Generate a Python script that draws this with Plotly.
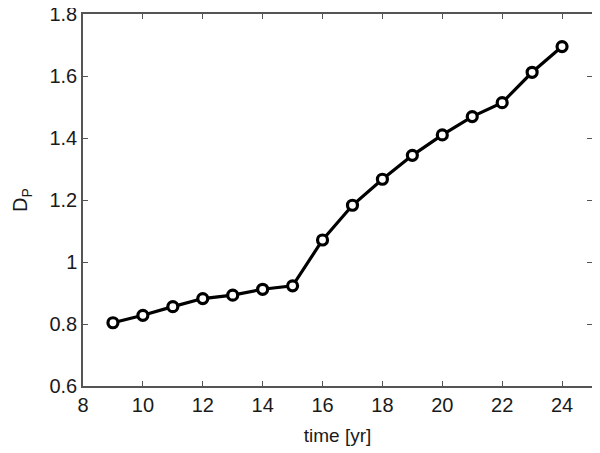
import plotly.graph_objects as go

time_yr = [9, 10, 11, 12, 13, 14, 15, 16, 17, 18, 19, 20, 21, 22, 23, 24]
dp_values = [0.804, 0.828, 0.856, 0.882, 0.893, 0.912, 0.923, 1.071,
             1.183, 1.267, 1.344, 1.410, 1.469, 1.514, 1.612, 1.695]

x_ticks = [8, 10, 12, 14, 16, 18, 20, 22, 24]
y_ticks = [0.6, 0.8, 1.0, 1.2, 1.4, 1.6, 1.8]
y_tick_labels = ["0.6", "0.8", "1", "1.2", "1.4", "1.6", "1.8"]

font_family = "Liberation Sans, Arial, sans-serif"

fig = go.Figure()
fig.add_trace(
    go.Scatter(
        x=time_yr,
        y=dp_values,
        mode="lines+markers",
        line={"color": "black", "width": 3.2},
        marker={"symbol": "circle", "size": 10, "color": "white",
                "line": {"color": "black", "width": 3.2}},
        showlegend=False,
    )
)

axis_style = dict(
    showline=True,
    linecolor="#555555",
    linewidth=1.5,
    mirror="ticks",
    ticks="inside",
    ticklen=5,
    tickcolor="#555555",
    showgrid=False,
    zeroline=False,
    automargin=False,
    ticklabeloverflow="allow",
    tickfont={"family": font_family, "size": 20, "color": "#1a1a1a"},
)

fig.update_xaxes(
    range=[8, 25],
    tickvals=x_ticks,
    title={"text": "time [yr]", "font": {"family": font_family, "size": 19, "color": "#1a1a1a"},
           "standoff": 14},
    **axis_style,
)
fig.update_yaxes(
    range=[0.6, 1.8],
    tickvals=y_ticks,
    ticktext=y_tick_labels,
    title={"text": "D<sub>P</sub>", "font": {"family": font_family, "size": 20, "color": "#1a1a1a"},
           "standoff": 16},
    **axis_style,
)
# the page body adds an 8 px offset, so margins are shifted to land the axes in place
fig.update_layout(
    width=600,
    height=453,
    margin={"l": 75, "r": 16, "t": 6, "b": 75},
    paper_bgcolor="white",
    plot_bgcolor="white",
)

fig.write_html("out.html")
